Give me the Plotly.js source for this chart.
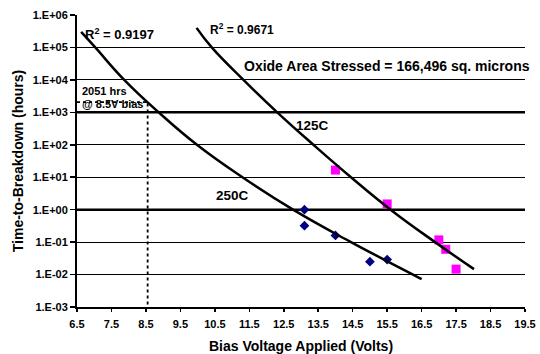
<!DOCTYPE html>
<html>
<head>
<meta charset="utf-8">
<script src="https://cdn.plot.ly/plotly-3.0.1.min.js"></script>
<style>html,body{margin:0;padding:0;background:#fff;}#chart{width:540px;height:354px;}</style>
</head>
<body>
<div id="chart"></div>
<script>
// Measured data points
const v250 = [13.1, 13.1, 14.0, 15.0, 15.5];
const t250 = [1.0, 0.32, 0.16, 0.025, 0.029];
const v125 = [14.0, 15.5, 17.0, 17.2, 17.5];
const t125 = [16.6, 1.5, 0.117, 0.06, 0.0147];

// Trend lines, points (gridline crossings and ends)
const fit250V = [6.62, 7.03, 7.87, 8.87, 9.98, 11.3, 12.77, 14.45, 16.25, 16.5];
const fit250T = [3.0e5, 1e5, 1e4, 1e3, 1e2, 1e1, 1, 0.1, 0.01, 0.0072];
const fit125V = [9.97, 10.41, 11.33, 12.31, 13.36, 14.45, 15.6, 16.89, 18.02];
const fit125T = [4.0e5, 1e5, 1e4, 1e3, 1e2, 1e1, 1, 0.1, 0.0147];

// 2051 hrs @ 8.5V guide
const guideV = [6.5, 8.55, 8.55];
const guideT = [2051, 2051, 0.001];

// Axis ticks
const xTickVals = [6.5, 7.5, 8.5, 9.5, 10.5, 11.5, 12.5, 13.5, 14.5, 15.5, 16.5, 17.5, 18.5, 19.5];
const xTickText = ["6.5", "7.5", "8.5", "9.5", "10.5", "11.5", "12.5", "13.5", "14.5", "15.5", "16.5", "17.5", "18.5", "19.5"];
const yTickVals = [1e-3, 1e-2, 1e-1, 1e0, 1e1, 1e2, 1e3, 1e4, 1e5, 1e6];
const yTickText = ["1.E-03", "1.E-02", "1.E-01", "1.E+00", "1.E+01", "1.E+02", "1.E+03", "1.E+04", "1.E+05", "1.E+06"];
const boldGrid = [1e3, 1e0];

const FONT = "'Liberation Sans', Arial, sans-serif";

const traces = [
  {x: guideV, y: guideT, mode: 'lines', line: {color: '#000', width: 1.8, dash: 'dot'}, hoverinfo: 'skip'},
  {x: v250, y: t250, mode: 'markers', marker: {symbol: 'diamond', size: 7.5, color: '#000080'}},
  {x: v125, y: t125, mode: 'markers', marker: {symbol: 'square', size: 9, color: '#FF00FF'}},
  {x: fit250V, y: fit250T, mode: 'lines', line: {color: '#000', width: 2.5, shape: 'spline', smoothing: 1.3}},
  {x: fit125V, y: fit125T, mode: 'lines', line: {color: '#000', width: 2.5, shape: 'spline', smoothing: 1.3}}
];

function ann(text, x, y, size, xanchor) {
  return {text: text, x: x, y: y, xref: 'x', yref: 'y', showarrow: false,
          xanchor: xanchor, yanchor: 'middle',
          font: {family: FONT, size: size, color: '#000', weight: 'bold'}};
}

const layout = {
  width: 540, height: 354,
  margin: {l: 77, r: 15, t: 15, b: 47},
  paper_bgcolor: '#fff', plot_bgcolor: '#fff',
  showlegend: false,
  font: {family: FONT, color: '#000'},
  xaxis: {
    range: [6.5, 19.5],
    tickvals: xTickVals, ticktext: xTickText,
    showgrid: false, zeroline: false,
    showline: true, linecolor: '#000', linewidth: 2,
    ticks: 'outside', ticklen: 3, tickwidth: 1.5, tickcolor: '#000',
    ticklabelstandoff: 3,
    tickfont: {family: FONT, size: 11, color: '#000', weight: 'bold'},
    title: {text: 'Bias Voltage Applied (Volts)', font: {family: FONT, size: 14, color: '#000', weight: 'bold'}, standoff: 12}
  },
  yaxis: {
    type: 'log', range: [-3, 6],
    tickvals: yTickVals, ticktext: yTickText,
    showgrid: true, gridcolor: '#000', gridwidth: 1,
    zeroline: false,
    showline: true, linecolor: '#000', linewidth: 2,
    ticks: 'outside', ticklen: 5, tickwidth: 1.5, tickcolor: '#000',
    tickfont: {family: FONT, size: 11, color: '#000', weight: 'bold'},
    title: {text: 'Time-to-Breakdown (hours)', font: {family: FONT, size: 14, color: '#000', weight: 'bold'}, standoff: 6}
  },
  shapes: boldGrid.map(v => ({type: 'line', xref: 'paper', x0: 0, x1: 1, yref: 'y', y0: v, y1: v,
                              line: {color: '#000', width: 2.5}, layer: 'below'})),
  annotations: [
    ann('R<sup>2</sup> = 0.9197', 6.66, 5.41, 13, 'left'),
    ann('R<sup>2</sup> = 0.9671', 10.31, 5.56, 12, 'left'),
    ann('Oxide Area Stressed = 166,496 sq. microns', 11.3, 4.43, 14, 'left'),
    ann('125C', 13.33, 2.585, 13.5, 'center'),
    ann('250C', 11.0, 0.43, 13.5, 'center'),
    ann('2051 hrs', 6.6, 3.66, 11, 'left'),
    ann('@ 8.5V bias', 6.6, 3.25, 11, 'left')
  ]
};

Plotly.newPlot('chart', traces, layout, {displayModeBar: false, staticPlot: true});
</script>
</body>
</html>
